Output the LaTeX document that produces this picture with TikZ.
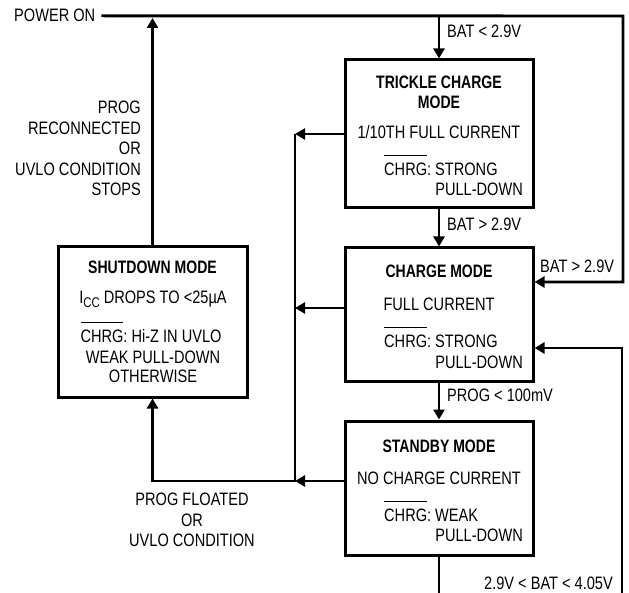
\documentclass[tikz,border=0pt]{standalone}
\usepackage{fontspec}
\setmainfont{Liberation Sans}[FakeStretch=0.81]
\newfontfamily\titlefont{Liberation Sans}[FakeStretch=0.78]
\usetikzlibrary{arrows.meta}
\newlength\chrgw
\newcommand\barCHRG{\settowidth\chrgw{CHRG}\rlap{\rule[19.5pt]{\chrgw}{1pt}}CHRG}
\begin{document}
\begin{tikzpicture}[x=1pt,y=-1pt,
  every node/.style={inner sep=0pt, font=\fontsize{18}{20.5}\selectfont},
  modebox/.style={draw, line width=3pt, minimum width=188pt},
  ttl/.style={font=\fontsize{18}{20.5}\selectfont\titlefont\bfseries, align=center},
  conn/.style={line width=2.9pt},
  arr/.style={conn, -{Triangle[length=10pt,width=11pt]}}]
\clip (0,0) rectangle (629,593);
\fill[white] (0,0) rectangle (629,593);

% boxes
\node[modebox, minimum height=148pt] (trickle) at (439,134) {};
\node[modebox, minimum height=134pt] (charge) at (439,315) {};
\node[modebox, minimum height=134pt] (standby) at (439,488) {};
\node[modebox, minimum height=150pt, minimum width=189pt] (shutdown) at (152.5,322) {};

% box texts
\node[ttl, anchor=base] (t1) at (439,89) {TRICKLE CHARGE};
\node[ttl, anchor=base] (t2) at (439,109) {MODE};
\node[anchor=base] (t3) at (439,139) {1/10TH FULL CURRENT};
\node[anchor=base west] (t4) at (384,176) {\barCHRG: STRONG};
\node[anchor=base east] (t5) at (523,196) {PULL-DOWN};

\node[ttl, anchor=base] (c1) at (439,278) {CHARGE MODE};
\node[anchor=base] (c2) at (439,311) {FULL CURRENT};
\node[anchor=base west] (c3) at (384,348) {\barCHRG: STRONG};
\node[anchor=base east] (c4) at (523,369) {PULL-DOWN};

\node[ttl, anchor=base] (s1) at (439,452) {STANDBY MODE};
\node[anchor=base] (s2) at (439,484) {NO CHARGE CURRENT};
\node[anchor=base west] (s3) at (384,521) {\barCHRG: WEAK};
\node[anchor=base east] (s4) at (523,541) {PULL-DOWN};

\node[ttl, anchor=base] (d1) at (152.5,274) {SHUTDOWN MODE};
\node[anchor=base] (d2) at (153,304) {I\raisebox{-3.5pt}{\fontsize{14}{14}\selectfont CC} DROPS TO <25µA};
\node[anchor=base] (d3) at (151,343) {\barCHRG: Hi-Z IN UVLO};
\node[anchor=base] (d4) at (153,363) {WEAK PULL-DOWN};
\node[anchor=base] (d5) at (153,382) {OTHERWISE};

% labels
\node[anchor=base west] (pon) at (14,22) {POWER ON};
\node[anchor=base west] (l1) at (447,38) {BAT < 2.9V};
\node[anchor=base west] (l2) at (447,231) {BAT > 2.9V};
\node[anchor=base west] (l3) at (540,273) {BAT > 2.9V};
\node[anchor=base west] (l4) at (447,401) {PROG < 100mV};
\node[anchor=base east] (l5) at (613,589) {2.9V < BAT < 4.05V};
\node[anchor=north east, align=right] (l6) at (141,101) {PROG\\RECONNECTED\\OR\\UVLO CONDITION\\STOPS};
\node[anchor=north, align=center] (l7) at (192,493) {PROG FLOATED\\OR\\UVLO CONDITION};

% coordinates
\coordinate (pr) at (623,16);
\coordinate (uptip) at (152.5,18);
\coordinate (bus1) at (295,134);
\coordinate (bus2) at (295,481);
\coordinate (lc) at (622,610);
\path ([yshift=33pt]charge.east) coordinate (cE1);
\path ([yshift=-33pt]charge.east) coordinate (cE2);
\path ([yshift=7pt]charge.west) coordinate (cW);
\path ([yshift=7pt]standby.west) coordinate (sW);

% connectors
\draw[arr] ([xshift=6pt]pon.east) -- (pr) |- (cE1);
\draw[arr] (trickle.north |- pon) -- (trickle.north);
\draw[arr] (shutdown.north) -- (shutdown.north |- uptip);
\draw[arr] (trickle.south) -- (charge.north);
\draw[arr] (charge.south) -- (standby.north);
\draw[arr] (trickle.west) -- (trickle.west -| bus1);
\draw[arr] (cW) -- (cW -| bus1);
\draw[arr] (sW) -- (sW -| bus1);
\draw[arr] (bus1) -- (bus2) -| (shutdown.south);
\draw[arr] (standby.south) |- (lc) |- (cE2);
\end{tikzpicture}
\end{document}
